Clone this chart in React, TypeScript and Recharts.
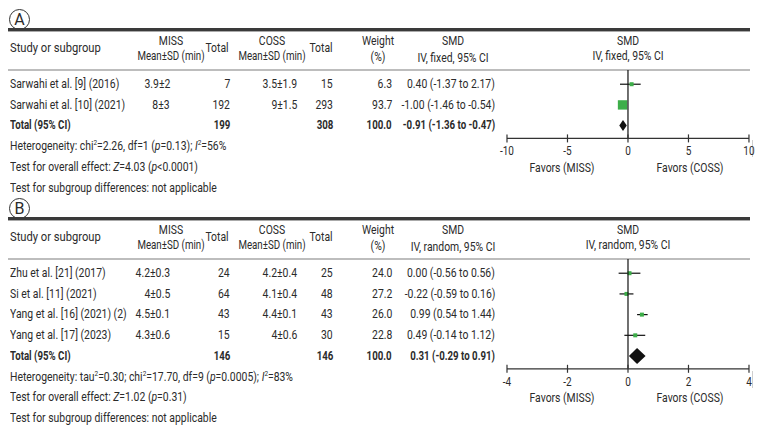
import React from "react";
import { ComposedChart, Bar, XAxis, YAxis, ReferenceLine } from "recharts";

const FONT = "Roboto, 'Liberation Sans', sans-serif";
const NARROW = 0.8; // the figure uses a condensed face
const TEXT = "#2b2b2b";
const GREEN = "#3dae49";
const W = 757;
const ROW = 20.7;
const PLOT_L = 507;
const PLOT_R = 749;

// Panel A (operative time, fixed effect)
const studiesA = ["Sarwahi et al. [9] (2016)", "Sarwahi et al. [10] (2021)"];
const missA = ["3.9±2", "8±3"];
const missNA = [7, 192];
const cossA = ["3.5±1.9", "9±1.5"];
const cossNA = [15, 293];
const weightA = [6.3, 93.7];
const smdA = ["0.40 (-1.37 to 2.17)", "-1.00 (-1.46 to -0.54)"];
const totalNA = [199, 308];
const totalSmdA = "-0.91 (-1.36 to -0.47)";
// marks as they sit on the plotted axis
const estA = [0.3, -0.45];
const loA = [-0.66, -0.7];
const hiA = [1.05, -0.2];
const diamondA = [-0.72, -0.41, -0.1];
const ticksA = [-10, -5, 0, 5, 10];

// Panel B (random effect)
const studiesB = [
  "Zhu et al. [21] (2017)",
  "Si et al. [11] (2021)",
  "Yang et al. [16] (2021) (2)",
  "Yang et al. [17] (2023)",
];
const missB = ["4.2±0.3", "4±0.5", "4.5±0.1", "4.3±0.6"];
const missNB = [24, 64, 43, 15];
const cossB = ["4.2±0.4", "4.1±0.4", "4.4±0.1", "4±0.6"];
const cossNB = [25, 48, 43, 30];
const weightB = [24.0, 27.2, 26.0, 22.8];
const smdB = [
  "0.00 (-0.56 to 0.56)",
  "-0.22 (-0.59 to 0.16)",
  "0.99 (0.54 to 1.44)",
  "0.49 (-0.14 to 1.12)",
];
const totalNB = [146, 146];
const totalSmdB = "0.31 (-0.29 to 0.91)";
const estB = [0.05, -0.05, 0.46, 0.24];
const loB = [-0.31, -0.28, 0.3, -0.12];
const hiB = [0.41, 0.18, 0.65, 0.57];
const diamondB = [0.03, 0.3, 0.58];
const ticksB = [-4, -2, 0, 2, 4];

type Align = "left" | "right" | "center";

function Txt({ x, y, align = "left", bold = false, sx = NARROW, children }: { x: number; y: number; align?: Align; bold?: boolean; sx?: number; children: React.ReactNode }) {
  const k = bold ? sx * 0.93 : sx;
  const style: React.CSSProperties = {
    position: "absolute",
    top: y - 8,
    lineHeight: "16px",
    whiteSpace: "nowrap",
    fontWeight: bold ? 700 : 400,
  };
  if (align === "left") {
    style.left = x;
    style.transform = `scaleX(${k})`;
    style.transformOrigin = "left center";
  } else if (align === "right") {
    style.right = W - x;
    style.transform = `scaleX(${k})`;
    style.transformOrigin = "right center";
  } else {
    style.left = x;
    style.transform = `translateX(-50%) scaleX(${k})`;
    style.transformOrigin = "center center";
  }
  return <div style={style}>{children}</div>;
}

const Sup = ({ children }: { children: React.ReactNode }) => (
  <sup style={{ fontSize: 8, lineHeight: 0 }}>{children}</sup>
);

const renderTick = (p: any) => {
  const ay = p.y - 6;
  return (
    <g>
      <line x1={p.x} x2={p.x} y1={ay - 4} y2={ay + 4} stroke="#333" strokeWidth={1.2} />
      <text
        transform={`translate(${p.x},${ay + 17}) scale(${NARROW},1)`}
        textAnchor="middle"
        fontFamily={FONT}
        fontSize={12.5}
        fill={TEXT}
      >
        {p.payload.value}
      </text>
    </g>
  );
};

type PlotRow = { name: string; est: number; lo: number; hi: number; weight: number; total: boolean };

function Forest({ rows, ticks, top, axisY, firstY, lastY, diamondH }: { rows: PlotRow[]; ticks: number[]; top: number; axisY: number; firstY: number; lastY: number; diamondH: number }) {
  const h = axisY - top + 40;
  const padTop = firstY - ROW / 2 - top;
  const padBottom = axisY - (lastY + ROW / 2);

  const shape = (p: any) => {
    const d = p.payload as PlotRow;
    const cy = p.y + p.height / 2;
    const x0 = p.x;
    const w = p.width;
    const cx = x0 + (w * (d.est - d.lo)) / (d.hi - d.lo);
    if (d.total) {
      return (
        <polygon
          points={`${x0},${cy} ${cx},${cy - diamondH / 2} ${x0 + w},${cy} ${cx},${cy + diamondH / 2}`}
          fill="#111"
        />
      );
    }
    const s = Math.max(4, d.weight / 10);
    return (
      <g>
        <line x1={x0} x2={x0 + w} y1={cy} y2={cy} stroke="#111" strokeWidth={1.2} />
        <rect x={cx - s / 2} y={cy - s / 2} width={s} height={s} fill={GREEN} />
      </g>
    );
  };

  return (
    <div style={{ position: "absolute", left: 0, top, width: W, height: h }}>
      <ComposedChart
        layout="vertical"
        width={W}
        height={h}
        data={rows}
        margin={{ top: 0, right: W - PLOT_R, bottom: 0, left: PLOT_L }}
      >
        <XAxis
          type="number"
          domain={[ticks[0], ticks[ticks.length - 1]]}
          ticks={ticks}
          interval={0}
          height={40}
          axisLine={{ stroke: "#333", strokeWidth: 1.2 }}
          tickLine={false}
          tickSize={4}
          tickMargin={2}
          tick={renderTick}
        />
        <YAxis type="category" dataKey="name" hide padding={{ top: padTop, bottom: padBottom }} />
        <ReferenceLine x={0} stroke="#111" strokeWidth={1.2} />
        <Bar dataKey={(d: PlotRow) => [d.lo, d.hi]} shape={shape} isAnimationActive={false} />
      </ComposedChart>
    </div>
  );
}

function Panel(props: {
  label: string;
  off: number;
  method: string;
  studies: string[];
  miss: string[];
  missN: number[];
  coss: string[];
  cossN: number[];
  weight: number[];
  smd: string[];
  totalN: number[];
  totalSmd: string;
  est: number[];
  lo: number[];
  hi: number[];
  diamond: number[];
  ticks: number[];
  diamondH: number;
  heterogeneity: React.ReactNode;
  overall: React.ReactNode;
}) {
  const { off, studies } = props;
  const rowY = (i: number) => off + 84 + i * ROW;
  const n = studies.length;
  const totalY = rowY(n);
  const axisY = totalY + 13;

  const rows: PlotRow[] = studies.map((name, i) => ({
    name,
    est: props.est[i],
    lo: props.lo[i],
    hi: props.hi[i],
    weight: props.weight[i],
    total: false,
  }));
  rows.push({ name: "Total", lo: props.diamond[0], est: props.diamond[1], hi: props.diamond[2], weight: 100, total: true });

  return (
    <>
      <div
        style={{
          position: "absolute",
          left: 9,
          top: off + 9,
          width: 19,
          height: 19,
          border: "1px solid #333",
          borderRadius: "50%",
          textAlign: "center",
          lineHeight: "19px",
          fontSize: 16,
        }}
      >
        {props.label}
      </div>
      <div style={{ position: "absolute", left: 8, top: off + 28, width: 742, height: 3, background: "#3a3a3a" }} />
      <div style={{ position: "absolute", left: 8, top: off + 31, width: 742, height: 1, background: "#aaa" }} />
      <div style={{ position: "absolute", left: 8, top: off + 69, width: 742, height: 1.5, background: "#bdbdbd" }} />
      <div style={{ position: "absolute", left: 752, top: axisY + 2, width: 1, height: 17, background: "#cfcfcf" }} />

      <Txt x={10} y={off + 48} sx={0.86}>Study or subgroup</Txt>
      <Txt x={171} y={off + 41} align="center">MISS</Txt>
      <Txt x={171} y={off + 56} align="center" sx={0.75}>Mean±SD (min)</Txt>
      <Txt x={217} y={off + 48} align="center">Total</Txt>
      <Txt x={272} y={off + 41} align="center">COSS</Txt>
      <Txt x={272} y={off + 56} align="center" sx={0.75}>Mean±SD (min)</Txt>
      <Txt x={321} y={off + 48} align="center">Total</Txt>
      <Txt x={378} y={off + 41} align="center">Weight</Txt>
      <Txt x={378} y={off + 57} align="center">(%)</Txt>
      <Txt x={453} y={off + 41} align="center">SMD</Txt>
      <Txt x={453} y={off + 58} align="center">{`IV, ${props.method}, 95% CI`}</Txt>
      <Txt x={628} y={off + 41} align="center">SMD</Txt>
      <Txt x={628} y={off + 56} align="center">{`IV, ${props.method}, 95% CI`}</Txt>

      {studies.map((s, i) => (
        <React.Fragment key={s}>
          <Txt x={10} y={rowY(i)}>{s}</Txt>
          <Txt x={170} y={rowY(i)} align="right">{props.miss[i]}</Txt>
          <Txt x={230} y={rowY(i)} align="right">{props.missN[i]}</Txt>
          <Txt x={297} y={rowY(i)} align="right">{props.coss[i]}</Txt>
          <Txt x={333} y={rowY(i)} align="right">{props.cossN[i]}</Txt>
          <Txt x={392} y={rowY(i)} align="right">{props.weight[i].toFixed(1)}</Txt>
          <Txt x={495} y={rowY(i)} align="right">{props.smd[i]}</Txt>
        </React.Fragment>
      ))}

      <Txt x={10} y={totalY} bold>Total (95% CI)</Txt>
      <Txt x={230} y={totalY} align="right" bold>{props.totalN[0]}</Txt>
      <Txt x={333} y={totalY} align="right" bold>{props.totalN[1]}</Txt>
      <Txt x={392} y={totalY} align="right" bold>100.0</Txt>
      <Txt x={495} y={totalY} align="right" bold>{props.totalSmd}</Txt>

      <Txt x={10} y={rowY(n + 1)}>{props.heterogeneity}</Txt>
      <Txt x={10} y={rowY(n + 2)}>{props.overall}</Txt>
      <Txt x={10} y={rowY(n + 3)}>Test for subgroup differences: not applicable</Txt>

      <Txt x={562} y={rowY(n + 2) + 1} align="center">Favors (MISS)</Txt>
      <Txt x={690} y={rowY(n + 2) + 1} align="center">Favors (COSS)</Txt>

      <Forest
        rows={rows}
        ticks={props.ticks}
        top={off + 70}
        axisY={axisY}
        firstY={rowY(0)}
        lastY={totalY}
        diamondH={props.diamondH}
      />
    </>
  );
}

export default function App() {
  return (
    <div
      style={{
        position: "absolute",
        left: 0,
        top: 0,
        width: W,
        height: 445,
        background: "#fff",
        fontFamily: FONT,
        fontSize: 13,
        color: TEXT,
        overflow: "hidden",
      }}
    >
      <Panel
        label="A"
        off={0}
        method="fixed"
        studies={studiesA}
        miss={missA}
        missN={missNA}
        coss={cossA}
        cossN={cossNA}
        weight={weightA}
        smd={smdA}
        totalN={totalNA}
        totalSmd={totalSmdA}
        est={estA}
        lo={loA}
        hi={hiA}
        diamond={diamondA}
        ticks={ticksA}
        diamondH={11}
        heterogeneity={
          <>
            Heterogeneity: chi<Sup>2</Sup>=2.26, df=1 (<i>p</i>=0.13); <i>I</i>
            <Sup>2</Sup>=56%
          </>
        }
        overall={
          <>
            Test for overall effect: <i>Z</i>=4.03 (<i>p</i>&lt;0.0001)
          </>
        }
      />
      <Panel
        label="B"
        off={189}
        method="random"
        studies={studiesB}
        miss={missB}
        missN={missNB}
        coss={cossB}
        cossN={cossNB}
        weight={weightB}
        smd={smdB}
        totalN={totalNB}
        totalSmd={totalSmdB}
        est={estB}
        lo={loB}
        hi={hiB}
        diamond={diamondB}
        ticks={ticksB}
        diamondH={16}
        heterogeneity={
          <>
            Heterogeneity: tau<Sup>2</Sup>=0.30; chi<Sup>2</Sup>=17.70, df=9 (<i>p</i>=0.0005); <i>I</i>
            <Sup>2</Sup>=83%
          </>
        }
        overall={
          <>
            Test for overall effect: <i>Z</i>=1.02 (<i>p</i>=0.31)
          </>
        }
      />
    </div>
  );
}
